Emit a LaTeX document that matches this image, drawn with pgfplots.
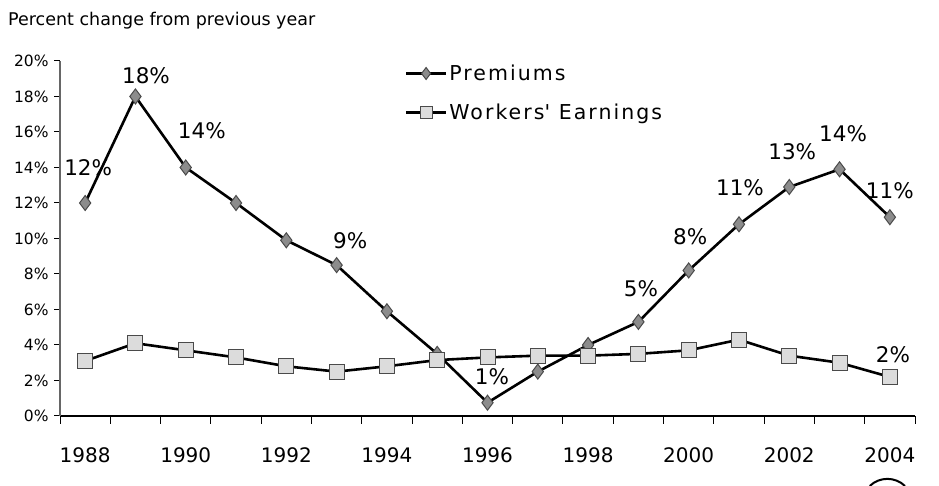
\documentclass[border=0pt]{standalone}
\usepackage{fontspec}
\setmainfont{DejaVu Sans}
\usepackage{pgfplots}
\pgfplotsset{compat=1.18}
\definecolor{premfill}{HTML}{8C8C8C}
\definecolor{premedge}{HTML}{4A4A4A}
\definecolor{earnfill}{HTML}{DCDCDC}
\definecolor{earnedge}{HTML}{4A4A4A}
\begin{document}
\begin{tikzpicture}
\path[use as bounding box] (0,0) rectangle (939pt,486pt);
\node[anchor=west,inner sep=0pt,font=\fontsize{17.5}{20}\selectfont] at (8pt,465pt) {Percent change from previous year};
\draw[line width=2pt] (905pt,0pt) arc[start angle=46,end angle=134,radius=25.4pt];
\begin{axis}[
  at={(60pt,70pt)}, anchor=south west,
  scale only axis, width=855pt, height=355pt,
  xmin=1987.5, xmax=2004.5, ymin=0, ymax=20,
  clip=false,
  axis x line=bottom, axis y line=left,
  axis line style={-},
  x axis line style={black,line width=1.2pt},
  y axis line style={gray!80!black,line width=1.2pt},
  tick align=outside,
  xtick={1988,1990,1992,1994,1996,1998,2000,2002,2004},
  xticklabels={1988,1990,1992,1994,1996,1998,2000,2002,2004},
  minor xtick={1987.5,1988.5,1989.5,1990.5,1991.5,1992.5,1993.5,1994.5,1995.5,1996.5,1997.5,1998.5,1999.5,2000.5,2001.5,2002.5,2003.5,2004.5},
  major x tick style={draw=none},
  minor x tick style={black,line width=1pt},
  minor tick length=8pt,
  major tick length=6pt,
  ytick={0,2,...,20},
  yticklabel={\pgfmathprintnumber{\tick}\%},
  y tick style={black,line width=1pt},
  /pgf/number format/assume math mode=true,
  xticklabel style={font=\fontsize{20}{24}\selectfont, yshift=-22pt},
  yticklabel style={font=\fontsize{15.5}{18}\selectfont, xshift=-2pt},
  legend style={at={(0.403,0.995)}, anchor=north west, draw=none, fill=none,
    font=\fontsize{20.5}{24}\selectfont\addfontfeature{LetterSpace=10}, row sep=18pt, inner sep=0pt,
    /tikz/every even column/.append style={column sep=4pt}},
  legend cell align=left,
  legend image code/.code={\draw[#1,mark repeat=2,mark phase=2,mark size=6pt] plot coordinates {(0pt,0pt) (20pt,0pt) (40pt,0pt)};},
]
\addplot[black, line width=2.6pt, mark=diamond*, mark size=7.5pt,
  mark options={fill=premfill, draw=premedge, line width=1pt}]
  coordinates {(1988,12.0) (1989,18.0) (1990,14.0) (1991,12.0) (1992,9.9) (1993,8.5)
  (1994,5.9) (1995,3.5) (1996,0.75) (1997,2.5) (1998,4.0) (1999,5.3) (2000,8.2)
  (2001,10.8) (2002,12.9) (2003,13.9) (2004,11.2)};
\addlegendentry{Premiums}
\addplot[black, line width=2.6pt, mark=square*, mark size=7.5pt,
  mark options={fill=earnfill, draw=earnedge, line width=1pt}]
  coordinates {(1988,3.1) (1989,4.1) (1990,3.7) (1991,3.3) (1992,2.8) (1993,2.5)
  (1994,2.8) (1995,3.15) (1996,3.3) (1997,3.4) (1998,3.4) (1999,3.5) (2000,3.7)
  (2001,4.3) (2002,3.4) (2003,3.0) (2004,2.2)};
\addlegendentry{Workers\textquotesingle\ Earnings}
\begin{scope}[every node/.style={font=\fontsize{21.5}{24}\selectfont, inner sep=0pt}]
\node at (axis cs:1988.06,13.97) {12\%};
\node at (axis cs:1989.21,19.2) {18\%};
\node at (axis cs:1990.32,16.1) {14\%};
\node at (axis cs:1993.27,9.9) {9\%};
\node at (axis cs:1996.09,2.2) {1\%};
\node at (axis cs:1999.05,7.2) {5\%};
\node at (axis cs:2000.03,10.1) {8\%};
\node at (axis cs:2001.02,12.85) {11\%};
\node at (axis cs:2002.06,14.87) {13\%};
\node at (axis cs:2003.07,15.9) {14\%};
\node at (axis cs:2004.0,12.7) {11\%};
\node at (axis cs:2004.06,3.44) {2\%};
\end{scope}
\end{axis}
\end{tikzpicture}
\end{document}
